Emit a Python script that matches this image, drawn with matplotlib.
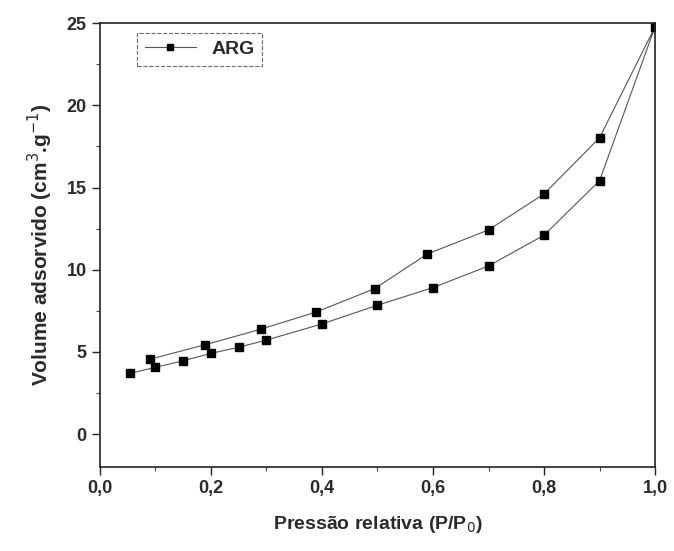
import matplotlib
matplotlib.use("Agg")
import matplotlib.pyplot as plt
from matplotlib.ticker import MultipleLocator, FuncFormatter

plt.rcParams['font.family'] = ['Liberation Sans', 'DejaVu Sans']

# adsorption branch (going up)
p_ads = [0.055, 0.10, 0.15, 0.20, 0.25, 0.30, 0.40, 0.50, 0.60, 0.70, 0.80, 0.90, 1.00]
v_ads = [3.70, 4.06, 4.46, 4.91, 5.28, 5.72, 6.70, 7.84, 8.91, 10.23, 12.10, 15.42, 24.79]

# desorption branch (coming back down)
p_des = [0.90, 0.80, 0.70, 0.59, 0.495, 0.39, 0.29, 0.19, 0.09]
v_des = [18.03, 14.61, 12.42, 10.96, 8.85, 7.43, 6.38, 5.44, 4.55]

p_all = p_ads + p_des
v_all = v_ads + v_des

txt = '#2a2a2a'

fig = plt.figure(figsize=(6.74, 5.51), dpi=100)
ax = fig.add_axes([0.148, 0.1525, 0.824, 0.8055])

ax.plot(p_all, v_all, color='#555555', linewidth=0.8, marker='s',
        markersize=5.5, markerfacecolor='black', markeredgecolor='black', label='ARG')

ax.set_xlim(0, 1.0)
ax.set_ylim(-2, 25)
ax.xaxis.set_major_locator(MultipleLocator(0.2))
ax.xaxis.set_minor_locator(MultipleLocator(0.1))
ax.yaxis.set_major_locator(MultipleLocator(5))
ax.yaxis.set_minor_locator(MultipleLocator(2.5))
ax.xaxis.set_major_formatter(FuncFormatter(lambda v, pos: f'{v:.1f}'.replace('.', ',')))
ax.tick_params(which='major', direction='out', length=6, width=1.0, labelsize=13,
               top=False, right=False, colors='#222222', labelcolor=txt)
ax.tick_params(which='minor', direction='out', length=3, width=0.8, top=False, right=False,
               colors='#444444')
for lab in ax.get_xticklabels() + ax.get_yticklabels():
    lab.set_fontweight('bold')
for s in ax.spines.values():
    s.set_linewidth(1.2)
    s.set_color('#222222')

ax.set_xlabel('Pressão relativa (P/P$_0$)', fontsize=14, labelpad=12, color=txt,
              fontweight='bold')
ax.set_ylabel('Volume adsorvido (cm$^3$.g$^{-1}$)', fontsize=15, labelpad=8, color=txt,
              fontweight='bold')

leg = ax.legend(loc='upper left', bbox_to_anchor=(0.05, 1.0), fontsize=14,
                frameon=True, fancybox=False, handlelength=2.6, borderpad=0.4,
                markerscale=0.8)
leg.get_frame().set_edgecolor('#444444')
leg.get_frame().set_linewidth(0.8)
leg.get_frame().set_linestyle('--')
for t in leg.get_texts():
    t.set_fontweight('bold')
    t.set_color(txt)

fig.savefig('out.png', dpi=100)
